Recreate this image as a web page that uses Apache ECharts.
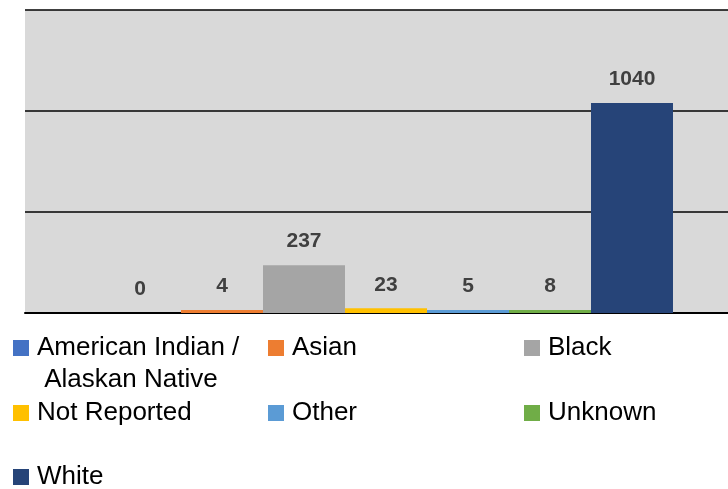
<!DOCTYPE html>
<html>
<head>
<meta charset="utf-8">
<script src="https://cdn.jsdelivr.net/npm/echarts@6/dist/echarts.min.js"></script>
<style>
  html, body { margin: 0; padding: 0; background: #fff; overflow: hidden; }
  /* the source chart runs past the right edge of the picture */
  #chart { width: 747px; height: 489px; }
</style>
</head>
<body>
<div id="chart"></div>
<script>
// one category, one bar per group
const groups = ['American Indian / Alaskan Native', 'Asian', 'Black', 'Not Reported', 'Other', 'Unknown', 'White'];
const counts = [0, 4, 237, 23, 5, 8, 1040];
const colors = ['#4472C4', '#ED7D31', '#A5A5A5', '#FFC000', '#5B9BD5', '#70AD47', '#264478'];
const yTicks = [0, 500, 1000, 1500];

// legend slots (left of icon, vertical centre of first text line)
const legendPos = [
    [13, 348], [268, 348], [524, 348],
    [13, 413], [268, 413], [524, 413],
    [13, 477]
];

let series = groups.map(function (name, i) {
    return {
        name: name,
        type: 'bar',
        barGap: 0,
        barCategoryGap: '20.5%',
        // tiny counts still show as a thin strip above the axis line
        barMinHeight: counts[i] > 0 ? 3 : 0,
        itemStyle: { color: colors[i] },
        label: {
            show: true,
            position: 'top',
            distance: 13,
            fontFamily: 'Liberation Sans',
            fontWeight: 'bold',
            fontSize: 21,
            color: '#404040'
        },
        data: [counts[i]]
    };
});

let legends = groups.map(function (name, i) {
    let multi = name.indexOf('/') > 0;
    return {
        data: [name],
        left: legendPos[i][0],
        top: legendPos[i][1] - (multi ? 48 : 16),
        padding: 0,
        icon: 'rect',
        itemWidth: 16,
        itemHeight: 16,
        selectedMode: false,
        formatter: function (n) {
            // Excel-style wrap: blank first line keeps the key beside line one
            return multi ? '\nAmerican Indian /\n Alaskan Native' : n;
        },
        textStyle: {
            fontFamily: 'Liberation Sans',
            fontSize: 26,
            lineHeight: 32,
            color: '#000',
            padding: [0, 0, 0, 3]
        }
    };
});

let option = {
    animation: false,
    grid: {
        left: 25,
        top: 10,
        right: 0,
        height: 303,
        show: true,
        backgroundColor: '#D9D9D9',
        borderWidth: 0
    },
    xAxis: {
        type: 'category',
        data: [''],
        axisLine: { show: true, lineStyle: { color: '#000', width: 2 } },
        axisTick: { show: false },
        axisLabel: { show: false }
    },
    yAxis: {
        type: 'value',
        min: yTicks[0],
        max: yTicks[yTicks.length - 1],
        interval: yTicks[1] - yTicks[0],
        axisLine: { show: false },
        axisTick: { show: false },
        axisLabel: { show: false },
        splitLine: { lineStyle: { color: '#000', width: 1.5 } }
    },
    legend: legends,
    series: series
};

echarts.init(document.getElementById('chart')).setOption(option);
</script>
</body>
</html>
